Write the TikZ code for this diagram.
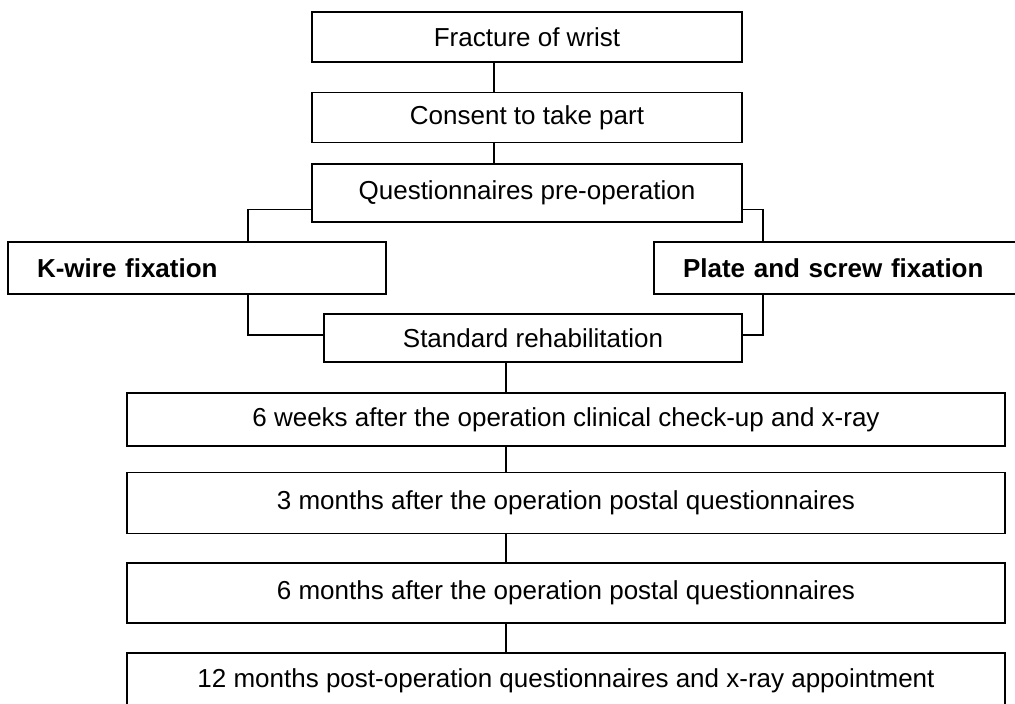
\documentclass[tikz,border=0pt]{standalone}
\usepackage{fontspec}
\setmainfont{Liberation Sans}
\usepackage{tikz}
\usetikzlibrary{positioning}

\begin{document}
\begin{tikzpicture}[
    x = 1pt, y = -1pt,
    block/.style = {rectangle, draw=black, line width=1.6pt, inner sep=0pt, text centered, font=\fontsize{26}{31}\selectfont},
    arm/.style = {rectangle, draw=black, line width=1.6pt, inner xsep=29pt, inner ysep=0pt, text width=320pt, align=left, minimum height=52pt, font=\fontsize{26}{31}\selectfont\bfseries},
    link/.style = {draw=black, line width=1.2pt}
]
    \useasboundingbox (0,0) rectangle (1015,704);
    \node [block, minimum width=430pt, minimum height=50pt] (fracture) at (527,37) {Fracture of wrist};
    \node [block, minimum width=430pt, minimum height=50pt, below=29pt of fracture] (consent) {Consent to take part};
    \node [block, minimum width=430pt, minimum height=58pt, below=20pt of consent] (questions) {Questionnaires pre-operation};
    \node [arm] (kwire) at (197,268) {K-wire fixation};
    \node [arm] (plate) at (843,268) {Plate and screw fixation};
    \node [block, minimum width=418pt, minimum height=48pt] (rehab) at (533,338) {Standard rehabilitation};
    \node [block, minimum width=878pt, minimum height=53pt] (weeks6) at (566,419.5) {6 weeks after the operation clinical check-up and x-ray};
    \node [block, minimum width=878pt, minimum height=61pt, below=25pt of weeks6] (months3) {3 months after the operation postal questionnaires};
    \node [block, minimum width=878pt, minimum height=60pt, below=28pt of months3] (months6) {6 months after the operation postal questionnaires};
    \node [block, minimum width=878pt, minimum height=55pt, below=28pt of months6] (months12) {12 months post-operation questionnaires and x-ray appointment};

    \path [link] ([xshift=-33pt]fracture.south) -- ([xshift=-33pt]consent.north);
    \path [link] ([xshift=-33pt]consent.south) -- ([xshift=-33pt]questions.north);
    \path [link] ([yshift=-16pt]questions.west) -| ([xshift=51pt]kwire.north);
    \path [link] ([yshift=-16pt]questions.east) -| ([xshift=-80pt]plate.north);
    \path [link] ([xshift=51pt]kwire.south) |- ([yshift=3pt]rehab.west);
    \path [link] ([xshift=-80pt]plate.south) |- ([yshift=3pt]rehab.east);
    \path [link] ([xshift=-27pt]rehab.south) -- ([xshift=-60pt]weeks6.north);
    \path [link] ([xshift=-60pt]weeks6.south) -- ([xshift=-60pt]months3.north);
    \path [link] ([xshift=-60pt]months3.south) -- ([xshift=-60pt]months6.north);
    \path [link] ([xshift=-60pt]months6.south) -- ([xshift=-60pt]months12.north);
\end{tikzpicture}
\end{document}
